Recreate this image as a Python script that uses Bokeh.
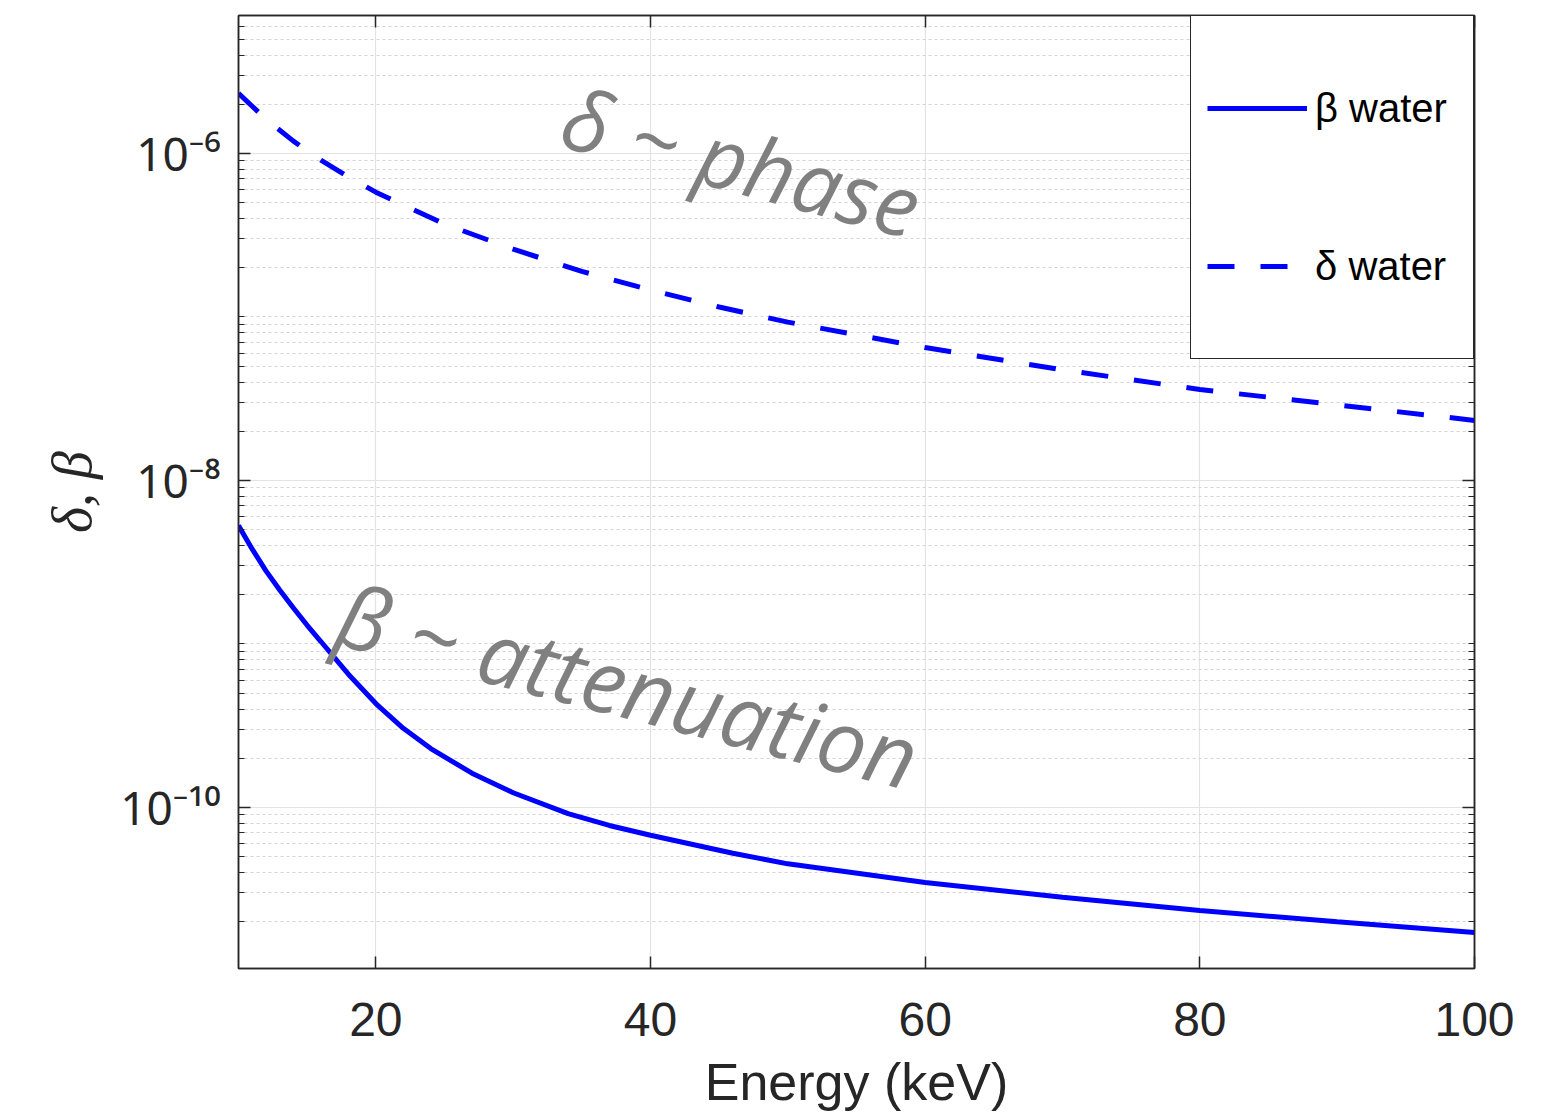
from bokeh.plotting import figure
from bokeh.models import (FixedTicker, LogAxis, LinearAxis, Label, Legend, LegendItem, Range1d)
from bokeh.embed import file_html
from bokeh.resources import INLINE

# ---- data ----
energy_beta = [10, 11, 12, 13, 14, 15, 16, 18, 20, 22, 24, 27, 30, 34, 37, 40, 46, 50, 60, 70, 80, 90, 100]
beta_water = [5.30e-9, 3.80e-9, 2.80e-9, 2.14e-9, 1.66e-9, 1.30e-9, 1.035e-9, 6.53e-10, 4.32e-10,
              3.05e-10, 2.29e-10, 1.62e-10, 1.23e-10, 9.16e-11, 7.76e-11, 6.76e-11, 5.25e-11, 4.52e-11,
              3.47e-11, 2.82e-11, 2.34e-11, 2.00e-11, 1.72e-11]

energy_delta = [10, 12, 14, 16, 18, 20, 25, 30, 35, 40, 45, 50, 60, 70, 80, 90, 100]
delta_water = [2.33e-6, 1.62e-6, 1.19e-6, 9.1e-7, 7.2e-7, 5.8e-7, 3.7e-7, 2.6e-7, 1.9e-7, 1.46e-7,
               1.15e-7, 9.3e-8, 6.5e-8, 4.75e-8, 3.6e-8, 2.9e-8, 2.33e-8]

x_ticks = [20, 40, 60, 80, 100]
y_ticks = [1e-10, 1e-8, 1e-6]
y_tick_labels = ["10\u207b\u00b9\u2070", "10\u207b\u2078", "10\u207b\u2076"]
y_minor = [m * 10.0 ** e for e in range(-11, -5) for m in range(2, 10)] + [1e-11, 1e-9, 1e-7, 1e-5]

AX = "#262626"
TICK_FONT = "Liberation Sans"
X0, X1 = 10, 100

p = figure(frame_width=1236, frame_height=953, y_axis_type="log",
           x_range=Range1d(X0, X1), y_range=Range1d(1.035e-11, 6.98e-6),
           output_backend="svg", toolbar_location=None,
           min_border_left=238, min_border_right=78, min_border_top=15, min_border_bottom=147,
           background_fill_color="white", border_fill_color="white")
p.outline_line_color = AX
p.outline_line_width = 1.5

xt = FixedTicker(ticks=x_ticks, minor_ticks=[])
yt = FixedTicker(ticks=y_ticks, minor_ticks=y_minor)
p.xaxis.ticker = xt
p.yaxis.ticker = yt

for ax in (p.xaxis[0], p.yaxis[0]):
    ax.axis_line_color = AX
    ax.axis_line_width = 1.5
    ax.major_tick_line_color = AX
    ax.minor_tick_line_color = AX
    ax.major_tick_line_width = 1.5
    ax.major_tick_in = 12
    ax.major_tick_out = 0
    ax.minor_tick_in = 6
    ax.minor_tick_out = 0
    ax.major_label_text_font = TICK_FONT
    ax.major_label_text_font_size = "48px"
    ax.major_label_text_color = AX

p.yaxis.major_label_overrides = dict(zip(y_ticks, y_tick_labels))
p.yaxis.major_label_text_font = "Noto Sans"
p.yaxis.major_label_text_font_size = "46px"
p.yaxis.major_label_standoff = 18
p.xaxis.major_label_standoff = 34

p.xaxis.axis_label = "Energy (keV)"
p.xaxis.axis_label_text_font = TICK_FONT
p.xaxis.axis_label_text_font_size = "52px"
p.xaxis.axis_label_text_font_style = "normal"
p.xaxis.axis_label_text_color = AX
p.xaxis.axis_label_standoff = 14

p.yaxis.axis_label = "\u03b4, \u03b2"
p.yaxis.axis_label_text_font = "Liberation Serif"
p.yaxis.axis_label_text_font_size = "56px"
p.yaxis.axis_label_text_font_style = "italic"
p.yaxis.axis_label_text_color = AX
p.yaxis.axis_label_standoff = 14

# mirrored axes (box with inward ticks), labels hidden
right = LogAxis(ticker=yt, major_label_text_font_size="2px", major_label_text_alpha=0,
                major_label_standoff=0,
                axis_line_color=AX, axis_line_width=1.5, major_tick_line_color=AX,
                minor_tick_line_color=AX, major_tick_in=12, major_tick_out=0,
                minor_tick_in=6, minor_tick_out=0, major_tick_line_width=1.5)
p.add_layout(right, "right")
top = LinearAxis(ticker=xt, major_label_text_font_size="2px", major_label_text_alpha=0,
                 major_label_standoff=0,
                 axis_line_color=AX, axis_line_width=1.5, major_tick_line_color=AX,
                 major_tick_in=12, major_tick_out=0, minor_tick_in=0, minor_tick_out=0,
                 major_tick_line_width=1.5)
p.add_layout(top, "above")

# grids
p.xgrid.grid_line_color = "#e3e3e3"
p.xgrid.grid_line_width = 1.2
p.ygrid.grid_line_color = "#e3e3e3"
p.ygrid.grid_line_width = 1.2
p.ygrid.minor_grid_line_color = "#d4d4d4"
p.ygrid.minor_grid_line_dash = "3 3"
p.ygrid.minor_grid_line_width = 1

# curves
r_beta = p.line(energy_beta, beta_water, line_color="#0000ff", line_width=5)
r_delta = p.line(energy_delta, delta_water, line_color="#0000ff", line_width=5, line_dash="27 26")

legend = Legend(items=[LegendItem(label="\u03b2 water", renderers=[r_beta]),
                       LegendItem(label="\u03b4 water", renderers=[r_delta])],
                location="top_right", margin=0, padding=16, spacing=6,
                glyph_width=100, glyph_height=152, label_height=152, label_width=142,
                label_standoff=8, label_text_font=TICK_FONT, label_text_font_size="40px",
                label_text_color="black", border_line_color=AX, border_line_width=1.5,
                border_line_alpha=1.0,
                background_fill_color="white", background_fill_alpha=1.0)
p.add_layout(legend)

# annotations
p.add_layout(Label(x=33.8, y=1.75e-6, text="\u03b4 ~ phase", angle=-0.26,
                   text_font="Open Sans", text_font_style="italic", text_font_size="85px",
                   text_color="#808080", text_baseline="alphabetic"))
p.add_layout(Label(x=17.4, y=1.6e-9, text="\u03b2 ~ attenuation", angle=-0.25,
                   text_font="Open Sans", text_font_style="italic", text_font_size="87px",
                   text_color="#808080", text_baseline="alphabetic"))

open("out.html", "w").write(file_html(p, INLINE))
